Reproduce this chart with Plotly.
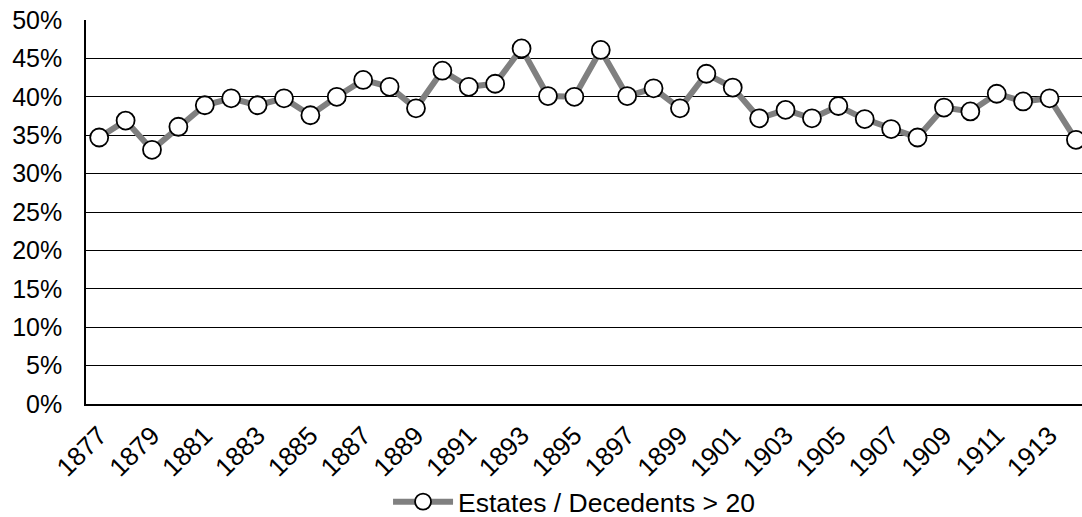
import plotly.graph_objects as go

years = list(range(1877, 1915))
share_pct = [34.7, 36.9, 33.1, 36.1, 38.9, 39.8, 38.9, 39.8, 37.6, 40.0,
             42.2, 41.3, 38.5, 43.4, 41.3, 41.7, 46.3, 40.1, 40.0, 46.1,
             40.1, 41.1, 38.5, 43.0, 41.2, 37.2, 38.3, 37.2, 38.8, 37.1,
             35.8, 34.7, 38.6, 38.1, 40.4, 39.4, 39.8, 34.4]
x_tick_years = list(range(1877, 1914, 2))
y_ticks = list(range(0, 51, 5))
series_name = "Estates / Decedents > 20"

FONT = "Liberation Sans, Arial, sans-serif"

fig = go.Figure()
fig.add_trace(go.Scatter(
    x=years, y=share_pct, mode="lines+markers", name=series_name,
    line=dict(color="#808080", width=6),
    marker=dict(size=18, color="white", line=dict(color="black", width=1.8)),
    showlegend=True,
))

fig.update_layout(
    width=1082, height=517,
    margin=dict(l=86, r=0, t=20, b=113, autoexpand=False),
    paper_bgcolor="white", plot_bgcolor="white",
    font=dict(family=FONT, color="black", size=25),
    showlegend=True,
    legend=dict(orientation="h", x=0.49, xanchor="center", y=-0.255, yanchor="middle",
                font=dict(size=26.5), itemwidth=60, bgcolor="rgba(0,0,0,0)"),
    xaxis=dict(range=[1876.5, 1914.23], tickmode="array", tickvals=x_tick_years,
               ticktext=[str(y) for y in x_tick_years], tickangle=-45,
               showgrid=False, zeroline=False, showline=True, linecolor="black",
               linewidth=1.6, ticks="", ticklabelstandoff=4, automargin=False,
               tickfont=dict(size=26)),
    yaxis=dict(range=[0, 50], tickmode="array", tickvals=y_ticks,
               ticktext=[f"{v}%" for v in y_ticks],
               showgrid=True, gridcolor="black", gridwidth=1.3, zeroline=False,
               showline=True, linecolor="black", linewidth=1.6, ticks="",
               ticklabelstandoff=17, automargin=False, tickfont=dict(size=25)),
)

fig.write_html("out.html", config={"displayModeBar": False},
               post_script="document.body.style.margin='0';document.body.style.overflow='hidden';")
